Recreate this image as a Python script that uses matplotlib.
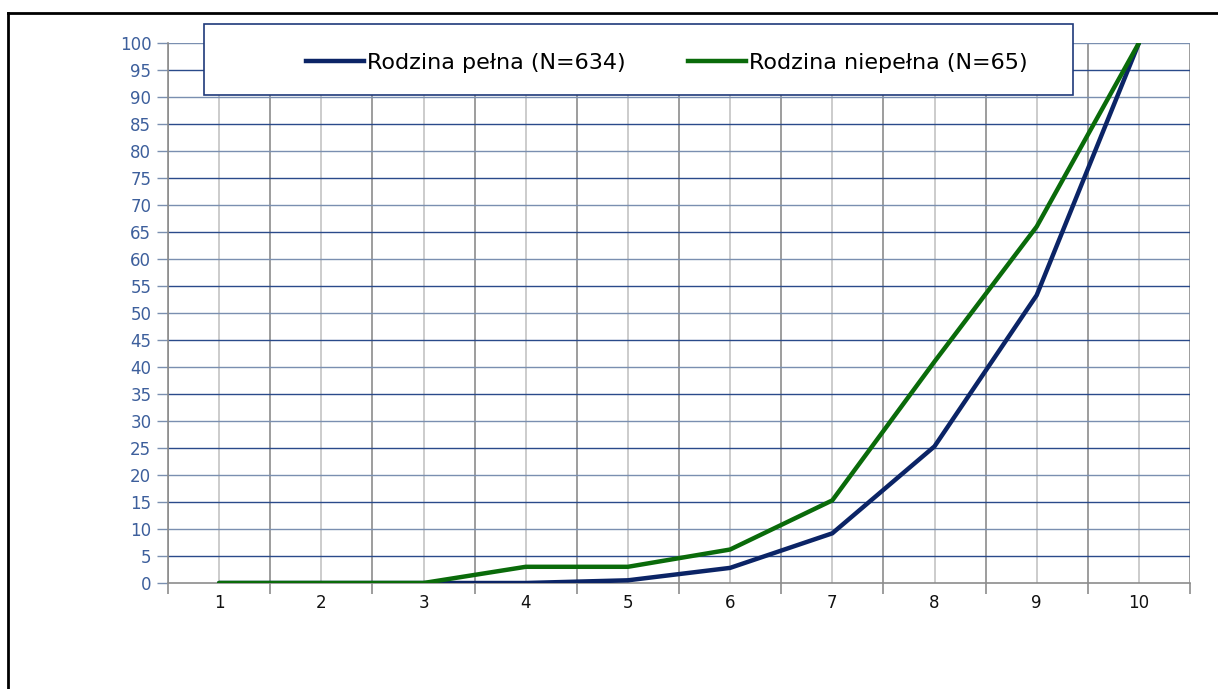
import numpy as np
import matplotlib.pyplot as plt
from matplotlib.patches import Rectangle
from matplotlib.lines import Line2D

# ==================================================
# DATA
# ==================================================
categories = [1, 2, 3, 4, 5, 6, 7, 8, 9, 10]

pelna = [0, 0, 0, 0, 0.5, 2.8, 9.2, 25.3, 53.3, 100]
niepelna = [0, 0, 0, 3, 3, 6.2, 15.3, 41, 66, 100]

labels = ["Rodzina pełna (N=634)", "Rodzina niepełna (N=65)"]
y_ticks = list(range(0, 101, 5))

BLUE = "#0b2466"
GREEN = "#0a6b0a"
W, H = 1218, 689

plt.rcParams["font.family"] = ["DejaVu Sans"]

fig = plt.figure(figsize=(W / 100, H / 100), dpi=100)

ax = fig.add_axes([
    168 / W,
    (H - 583) / H,
    (1190 - 168) / W,
    (583 - 43) / H
])

# ==================================================
# GRID
# ==================================================
x_bounds = np.arange(0.5, 11, 1.0)

for xb in x_bounds:
    ax.axvline(xb, color="#8c8c8c", lw=1.2, zorder=1)

for xc in categories:
    ax.axvline(xc, color="#c4c4c4", lw=1.2, zorder=1)

for i, yt in enumerate(y_ticks[1:]):
    ax.axhline(
        yt,
        color="#2a4a8a" if i % 2 == 0 else "#7a8fb0",
        lw=1.0,
        zorder=1
    )

# ==================================================
# LINES
# ==================================================
ax.plot(categories, pelna, color=BLUE, lw=3.2, zorder=3,
        solid_capstyle="round", solid_joinstyle="miter")
ax.plot(categories, niepelna, color=GREEN, lw=3.2, zorder=4,
        solid_capstyle="round", solid_joinstyle="miter")

ax.set_xlim(0.5, 10.5)
ax.set_ylim(0, 100)

ax.set_xticks(x_bounds)
ax.set_xticklabels([])
ax.set_xticks(categories, minor=True)
ax.set_xticklabels([str(c) for c in categories], minor=True)

ax.set_yticks(y_ticks)
ax.set_yticklabels([str(v) for v in y_ticks])

ax.tick_params(axis="x", which="major", length=8, color="#8c8c8c", width=1.2)
ax.tick_params(axis="x", which="minor", length=0, pad=8,
               labelsize=12, labelcolor="#111111")
ax.tick_params(axis="y", length=8, color="#7a8fb0", width=1.0,
               pad=4, labelsize=12, labelcolor="#3d5f9c")

for side in ["top", "right"]:
    ax.spines[side].set_visible(False)

ax.spines["left"].set_color("#8c8c8c")
ax.spines["bottom"].set_color("#8c8c8c")
ax.spines["left"].set_linewidth(1.2)
ax.spines["bottom"].set_linewidth(1.2)

# ==================================================
# LEGEND BOX
# ==================================================
box = Rectangle(
    (204 / W, (H - 95) / H),
    (1073 - 204) / W,
    (95 - 24) / H,
    transform=fig.transFigure,
    facecolor="white",
    edgecolor="#1f3a7a",
    lw=1.2,
    zorder=5
)
fig.patches.append(box)

handles = [
    Line2D([], [], color=BLUE, lw=3.2),
    Line2D([], [], color=GREEN, lw=3.2)
]

leg = fig.legend(
    handles,
    labels,
    loc="center",
    bbox_to_anchor=(667 / W, (H - 63) / H),
    ncol=2,
    frameon=False,
    fontsize=16,
    handlelength=2.6,
    handletextpad=0.15,
    columnspacing=2.8
)
leg.set_zorder(6)

# ==================================================
# OUTER FRAME
# ==================================================
fig.add_artist(Line2D([8 / W, 1.0], [(H - 13) / H, (H - 13) / H],
                      transform=fig.transFigure, color="black", lw=2))
fig.add_artist(Line2D([8 / W, 8 / W], [0, (H - 13) / H],
                      transform=fig.transFigure, color="black", lw=2))

fig.savefig("out.png", dpi=100)
